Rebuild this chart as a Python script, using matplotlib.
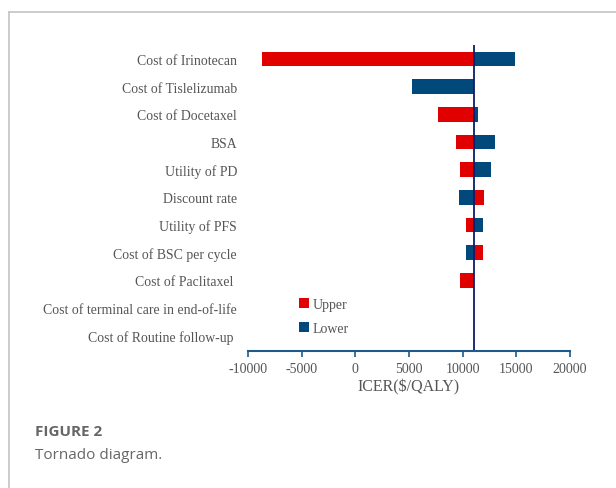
import matplotlib
matplotlib.use("Agg")
import matplotlib.pyplot as plt
from matplotlib.lines import Line2D

# tornado inputs (ICER, $/QALY)
params = ["Cost of Irinotecan", "Cost of Tislelizumab", "Cost of Docetaxel", "BSA",
          "Utility of PD", "Discount rate", "Utility of PFS", "Cost of BSC per cycle",
          "Cost of Paclitaxel ", "Cost of terminal care in end-of-life",
          "Cost of Routine follow-up "]
base_icer = 11100
upper = [-8650, 11100, 7730, 9410, 9750, 11990, 10310, 11870, 9790, 11100, 11100]
lower = [14850, 5280, 11430, 13010, 12680, 9690, 11900, 10310, 11100, 11100, 11100]
xticks = [-10000, -5000, 0, 5000, 10000, 15000, 20000]

red = "#e00000"
blue = "#00497a"
serif = ["Liberation Serif", "DejaVu Serif"]

fig = plt.figure(figsize=(6.16, 4.89), dpi=100)

# frame lines of the figure panel
fig.add_artist(Line2D([9 / 616, 9 / 616], [0, 1 - 13 / 489], color="#c4c4c4", lw=1.2))
fig.add_artist(Line2D([9 / 616, 1], [1 - 13 / 489, 1 - 13 / 489], color="#c4c4c4", lw=1.2))

ax = fig.add_axes([248 / 616, 1 - 352 / 489, 322 / 616, (352 - 46) / 489])
y = list(range(len(params)))
h = 0.53
ax.barh(y, [u - base_icer for u in upper], left=base_icer, height=h, color=red, label="Upper")
ax.barh(y, [l - base_icer for l in lower], left=base_icer, height=h, color=blue, label="Lower")
ax.axvline(base_icer, color="#0d1a6e", lw=1.3)

ax.set_xlim(-10000, 20000)
ax.set_ylim(len(params) - 0.45, -0.5)
ax.set_xticks(xticks)
ax.set_xticklabels([str(t) for t in xticks], family=serif, fontsize=10, color="#555555")
ax.set_yticks(y)
ax.set_yticklabels(params, family=serif, fontsize=9.9, color="#555555")
ax.tick_params(axis="y", length=0, pad=8)
ax.tick_params(axis="x", direction="out", length=4, width=1.2, color="#1f5a8a", pad=4)
for s in ["top", "right", "left"]:
    ax.spines[s].set_visible(False)
ax.spines["bottom"].set_color("#1f5a8a")
ax.spines["bottom"].set_linewidth(1.5)
ax.set_xlabel("ICER($/QALY)", family=serif, fontsize=11.5, color="#555555", labelpad=2)

leg = ax.legend(loc="upper left", bbox_to_anchor=(0.12, 0.215), frameon=False,
                handlelength=0.7, handleheight=0.7, handletextpad=0.3, labelspacing=0.8,
                prop={"family": serif, "size": 10})
for t in leg.get_texts():
    t.set_color("#555555")

fig.text(35 / 616, 1 - 432 / 489, "FIGURE 2", fontsize=11, fontweight="bold",
         family="Open Sans", color="#666666", va="center")
fig.text(35 / 616, 1 - 456 / 489, "Tornado diagram.", fontsize=11,
         family="Open Sans", color="#666666", va="center")

fig.savefig("out.png", dpi=100)
